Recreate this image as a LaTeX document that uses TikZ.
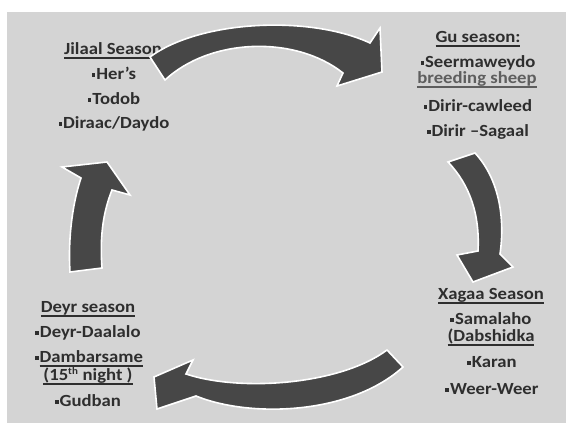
\documentclass[tikz,border=0pt]{standalone}
\usepackage{fontspec}
\setmainfont{Carlito}[FakeStretch=1.1]
\definecolor{bg}{HTML}{D4D4D4}
\definecolor{arr}{HTML}{474747}
\definecolor{txt}{HTML}{2E2E2E}
\definecolor{lt}{HTML}{5E5E5E}
\newcommand{\bul}{\raisebox{3pt}{\rule{3.6pt}{3.6pt}}\hspace{1pt}}
\newcommand{\ulx}[1]{\setbox0\hbox{#1}\rlap{\rule[-3.6pt]{\wd0}{1.4pt}}\box0}
\begin{document}
\begin{tikzpicture}[x=1pt,y=-1pt,
  lbl/.style={anchor=base, inner sep=0pt, font=\fontsize{17}{19}\selectfont\bfseries, text=txt},
  arrowshape/.style={fill=arr, draw=white, line width=1.6pt, line join=miter}]
\useasboundingbox (0,0) rectangle (566,435);
\fill[bg] (7,12) rectangle (566,423);

% Jilaal
\node[lbl] (j0) at (113,55) {\ulx{Jilaal Season}};
\node[lbl] (j1) at (114,80) {\bul Her’s};
\node[lbl] (j2) at (114,105) {\bul Todob};
\node[lbl] (j3) at (114,129) {\bul Diraac/Daydo};
% Gu
\node[lbl] (g0) at (478,43) {\ulx{Gu season:}};
\node[lbl] (g1) at (478,68) {\bul Seermaweydo};
\node[lbl, text=lt] (g2) at (477,84) {\ulx{breeding sheep}};
\node[lbl] (g3) at (478,112) {\bul Dirir-cawleed};
\node[lbl] (g4) at (478,137) {\bul Dirir –Sagaal};
% Xagaa
\node[lbl] (x0) at (491,300) {\ulx{Xagaa Season}};
\node[lbl] (x1) at (491,325) {\bul Samalaho};
\node[lbl] (x2) at (491,342) {\ulx{(Dabshidka}};
\node[lbl] (x3) at (492,368) {\bul Karan};
\node[lbl] (x4) at (492,395) {\bul Weer-Weer};
% Deyr
\node[lbl] (d0) at (88,313) {\ulx{Deyr season}};
\node[lbl] (d1) at (88,338) {\bul Deyr-Daalalo};
\node[lbl] (d2) at (89,363) {\bul\ulx{Dambarsame}};
\node[lbl] (d3) at (88,381) {\ulx{(15\textsuperscript{\fontsize{10}{10}\selectfont th} night )}};
\node[lbl] (d4) at (88,407) {\bul Gudban};

% arrows
\draw[arrowshape] (150,57) .. controls (200,20) and (310,15) .. (370,43) -- (380,28) -- (382,72) -- (337,86) -- (343,73) .. controls (295,35) and (210,38) .. (165,80) -- cycle;
\draw[arrowshape] (475,153) .. controls (500,180) and (505,220) .. (500,254) -- (513,267) -- (473,282) -- (457,255) -- (478,251) .. controls (480,215) and (470,185) .. (448,162) -- cycle;
\draw[arrowshape] (403,367) .. controls (350,415) and (250,418) .. (196,396) -- (157,409) -- (154,377) -- (193,360) -- (186,374) .. controls (240,392) and (340,385) .. (387,350) -- cycle;
\draw[arrowshape] (70,272) .. controls (68,240) and (72,205) .. (81,178) -- (62,167) -- (107,162) -- (130,195) -- (112,190) .. controls (102,215) and (100,240) .. (102,268) -- cycle;
\end{tikzpicture}
\end{document}
